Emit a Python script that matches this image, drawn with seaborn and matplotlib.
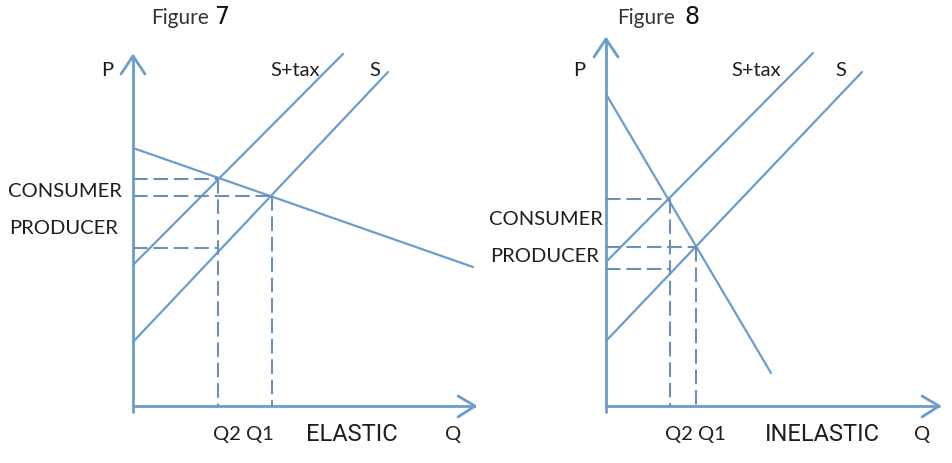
import matplotlib
matplotlib.use("Agg")
import matplotlib.pyplot as plt
from matplotlib import font_manager
import seaborn as sns

sns.set_theme(style="white")

names = {f.name for f in font_manager.fontManager.ttflist}
if "Liberation Sans Narrow" in names:
    NARROW, NSIZE = "Liberation Sans Narrow", 17
elif "Roboto" in names:
    NARROW, NSIZE = "Roboto", 17
else:
    NARROW, NSIZE = "DejaVu Sans", 15
MAIN = "Lato" if "Lato" in names else "DejaVu Sans"
plt.rcParams["font.family"] = [MAIN, "DejaVu Sans"]

# ---------------- data (panel units: origin at axes corner) ----------------
titles = ["Figure", "Figure"]
title_nums = ["7", "8"]
kinds = ["ELASTIC", "INELASTIC"]
price_labels = ["CONSUMER", "PRODUCER"]
q_labels = "Q2 Q1"

# Figure 7 (elastic)
f7_demand_q = [0, 340]
f7_demand_p = [258, 139]
f7_stax_q = [0, 210]
f7_stax_p = [141, 352]
f7_s_q = [0, 255]
f7_s_p = [64, 334]
f7_q2, f7_q1 = 85, 139
f7_pc, f7_pe, f7_pp = 227, 210, 158
f7_pmax, f7_qmax = 350, 342

# Figure 8 (inelastic)
f8_demand_q = [0, 165]
f8_demand_p = [312, 33]
f8_stax_q = [0, 207]
f8_stax_p = [144, 353]
f8_s_q = [0, 256]
f8_s_p = [65, 334]
f8_q2, f8_q1 = 64, 90
f8_pc, f8_pe, f8_pp = 207, 159, 137
f8_pmax, f8_qmax = 367, 333

SOLID = "#6b9dcb"
DASH = "#6d90b4"
W, H = 952, 464
OY = 407  # pixel row of the Q axis

fig = plt.figure(figsize=(W / 100, H / 100), dpi=100)


def panel(x0, x1, ox, demand, stax, s, q2, q1, pc, pe, pp, pmax, qmax):
    ax = fig.add_axes([x0 / W, 0, (x1 - x0) / W, 1])
    ax.set_xlim(x0 - ox, x1 - ox)
    ax.set_ylim(OY - H, OY)
    ax.axis("off")
    lw = 1.6
    for qq, pp_ in (demand, stax, s):
        sns.lineplot(x=qq, y=pp_, ax=ax, color=SOLID, lw=lw, sort=False, estimator=None)
    # axes with arrows
    sns.lineplot(x=[0, 0], y=[-6, pmax], ax=ax, color=SOLID, lw=2.0, sort=False, estimator=None)
    sns.lineplot(x=[0, qmax], y=[0, 0], ax=ax, color=SOLID, lw=2.0, sort=False, estimator=None)
    sns.lineplot(x=[-12, 0, 12], y=[pmax - 18, pmax, pmax - 18], ax=ax, color=SOLID, lw=2.0, sort=False, estimator=None)
    sns.lineplot(x=[qmax - 17, qmax, qmax - 17], y=[10, 0, -11], ax=ax, color=SOLID, lw=2.0, sort=False, estimator=None)
    # dashed guides
    ls = (0, (7, 2.8))
    dl = 1.5
    for xs, ys in (([0, q2], [pc, pc]), ([q2, q2], [pc, 0]),
                   ([0, q1], [pe, pe]), ([q1, q1], [pe, 0]),
                   ([0, q2], [pp, pp])):
        sns.lineplot(x=xs, y=ys, ax=ax, color=DASH, lw=dl, linestyle=ls, sort=False, estimator=None)
    return ax


panel(0, 476, 133,
      (f7_demand_q, f7_demand_p), (f7_stax_q, f7_stax_p), (f7_s_q, f7_s_p),
      f7_q2, f7_q1, f7_pc, f7_pe, f7_pp, f7_pmax, f7_qmax)
panel(476, 952, 606,
      (f8_demand_q, f8_demand_p), (f8_stax_q, f8_stax_p), (f8_s_q, f8_s_p),
      f8_q2, f8_q1, f8_pc, f8_pe, f8_pp, f8_pmax, f8_qmax)


def t(px, py, s, **kw):
    kw.setdefault("color", "#1e1e1e")
    kw.setdefault("fontsize", 14.5)
    fig.text(px / W, 1 - py / H, s, **kw)


# Titles
t(151, 24, titles[0], ha="left", va="baseline", fontsize=15, color="#333333")
t(214, 24, title_nums[0], ha="left", va="baseline", fontsize=17, family=["DejaVu Sans"], color="#111111")
t(617, 24, titles[1], ha="left", va="baseline", fontsize=15, color="#333333")
t(684, 24, title_nums[1], ha="left", va="baseline", fontsize=17, family=["DejaVu Sans"], color="#111111")

for (px_, sx, ssx, cx, cy, py2, qx, qq) in (
        (107, 295, 375, 8, 192, 229, 243, 453),
        (579, 756, 841, 489, 220, 257, 695, 922)):
    t(px_, 70, "P", ha="center", va="center")
    t(sx, 70, "S+tax", ha="center", va="center")
    t(ssx, 70, "S", ha="center", va="center")
    t(cx, cy, price_labels[0], ha="left", va="center")
    t(cx + 1, py2, price_labels[1], ha="left", va="center")
    t(qx, 435, q_labels, ha="center", va="center")
    t(qq, 435, "Q", ha="center", va="center")

t(352, 435, kinds[0], ha="center", va="center", fontsize=NSIZE, family=[NARROW, "DejaVu Sans"])
t(822, 435, kinds[1], ha="center", va="center", fontsize=NSIZE, family=[NARROW, "DejaVu Sans"])

fig.savefig("out.png", dpi=100)
